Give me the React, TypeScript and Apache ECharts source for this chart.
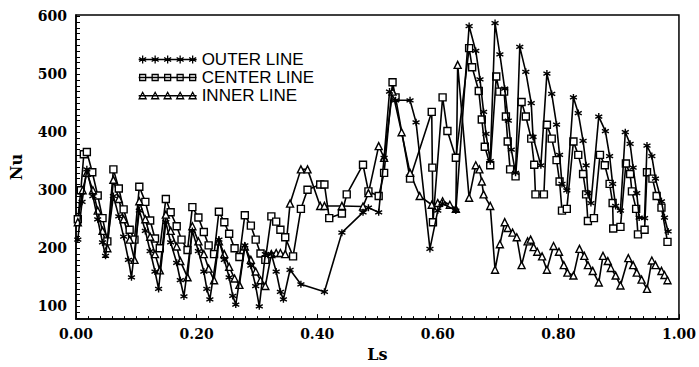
import React, { useEffect, useRef } from "react";
import * as echarts from "echarts";

const xTickLabels = ["0.00", "0.20", "0.40", "0.60", "0.80", "1.00"];
const yTickLabels = [100, 200, 300, 400, 500, 600];
const seriesNames = ["OUTER LINE", "CENTER LINE", "INNER LINE"];

const outerLine: number[][] = [
  [0.003,215],[0.010,280],[0.018,336],[0.028,290],[0.036,250],[0.044,210],[0.049,187],[0.062,290],[0.071,255],[0.079,220],[0.087,180],[0.092,150],[0.105,265],[0.115,230],[0.123,195],[0.131,160],[0.137,130],[0.149,245],[0.157,210],[0.167,175],[0.173,145],[0.179,117],[0.193,230],[0.203,195],[0.212,160],[0.217,130],[0.222,112],[0.237,215],[0.246,180],[0.254,150],[0.260,118],[0.265,103],[0.280,205],[0.290,170],[0.298,135],[0.304,100],[0.314,190],[0.324,190],[0.332,160],[0.339,125],[0.344,112],[0.355,163],[0.373,138],[0.412,125],[0.441,227],[0.476,262],[0.485,270],[0.502,262],[0.511,356],[0.520,470],[0.530,455],[0.554,455],[0.564,417],[0.587,199],[0.600,265],[0.608,277],[0.630,265],[0.652,583],[0.663,540],[0.670,491],[0.676,435],[0.680,397],[0.687,350],[0.695,588],[0.703,534],[0.711,475],[0.717,420],[0.722,370],[0.729,330],[0.736,547],[0.746,504],[0.755,450],[0.758,392],[0.771,343],[0.781,501],[0.789,466],[0.797,413],[0.802,361],[0.806,311],[0.814,300],[0.825,460],[0.833,433],[0.841,385],[0.846,343],[0.849,295],[0.854,278],[0.867,427],[0.878,402],[0.885,359],[0.890,311],[0.895,273],[0.903,265],[0.911,400],[0.919,380],[0.924,339],[0.930,295],[0.934,253],[0.943,252],[0.947,377],[0.955,359],[0.961,320],[0.971,281],[0.976,253],[0.982,229]
];

const centerLine: number[][] = [
  [0.003,250],[0.008,300],[0.013,362],[0.018,366],[0.027,331],[0.036,291],[0.044,252],[0.052,212],[0.062,336],[0.071,303],[0.079,267],[0.089,232],[0.097,215],[0.105,306],[0.115,280],[0.123,248],[0.131,217],[0.139,200],[0.149,285],[0.157,262],[0.167,238],[0.175,215],[0.185,197],[0.193,271],[0.203,253],[0.212,228],[0.220,205],[0.229,190],[0.237,263],[0.246,245],[0.254,225],[0.263,200],[0.271,185],[0.280,257],[0.290,239],[0.298,215],[0.306,191],[0.314,180],[0.324,255],[0.332,246],[0.339,232],[0.347,219],[0.360,186],[0.373,268],[0.384,301],[0.405,310],[0.412,310],[0.420,252],[0.441,260],[0.449,293],[0.476,344],[0.485,298],[0.502,290],[0.511,330],[0.525,486],[0.530,460],[0.554,320],[0.590,435],[0.591,339],[0.592,245],[0.608,460],[0.616,402],[0.630,356],[0.652,545],[0.657,512],[0.668,471],[0.673,422],[0.678,375],[0.687,343],[0.697,496],[0.702,470],[0.710,470],[0.713,427],[0.716,384],[0.720,336],[0.729,324],[0.739,452],[0.746,427],[0.755,389],[0.760,344],[0.762,293],[0.776,293],[0.781,413],[0.789,389],[0.797,352],[0.802,315],[0.806,265],[0.814,268],[0.825,384],[0.833,361],[0.841,328],[0.846,293],[0.849,247],[0.859,252],[0.869,361],[0.877,343],[0.885,311],[0.890,278],[0.891,234],[0.903,237],[0.912,346],[0.919,328],[0.922,298],[0.929,268],[0.932,224],[0.943,232],[0.947,331],[0.956,320],[0.963,290],[0.971,270],[0.981,211]
];

const innerLine: number[][] = [
  [0.003,245],[0.011,300],[0.018,330],[0.028,300],[0.036,265],[0.044,230],[0.052,200],[0.062,318],[0.071,285],[0.079,250],[0.089,215],[0.097,180],[0.105,281],[0.115,250],[0.123,220],[0.131,190],[0.139,162],[0.149,258],[0.157,230],[0.167,203],[0.173,178],[0.185,150],[0.193,238],[0.203,212],[0.212,190],[0.220,165],[0.229,145],[0.237,212],[0.246,190],[0.254,168],[0.263,148],[0.271,137],[0.280,203],[0.290,180],[0.298,160],[0.306,145],[0.314,135],[0.324,190],[0.332,192],[0.339,192],[0.347,190],[0.355,277],[0.373,336],[0.384,336],[0.405,273],[0.412,273],[0.441,273],[0.476,272],[0.485,295],[0.502,376],[0.511,356],[0.525,470],[0.540,400],[0.554,330],[0.570,290],[0.590,275],[0.600,278],[0.608,281],[0.620,275],[0.630,268],[0.633,516],[0.652,287],[0.663,343],[0.669,336],[0.673,315],[0.676,293],[0.687,273],[0.695,163],[0.703,207],[0.711,245],[0.716,235],[0.724,227],[0.731,219],[0.739,171],[0.749,212],[0.754,215],[0.759,202],[0.765,194],[0.773,186],[0.781,163],[0.792,204],[0.801,194],[0.809,171],[0.815,158],[0.825,153],[0.835,199],[0.843,187],[0.849,171],[0.857,161],[0.867,141],[0.874,187],[0.882,178],[0.887,166],[0.895,153],[0.903,136],[0.916,183],[0.924,171],[0.930,158],[0.938,146],[0.947,130],[0.955,179],[0.961,171],[0.971,161],[0.976,154],[0.981,145]
];

const STAR = "path://M5,0L5,10M0.7,2.5L9.3,7.5M0.7,7.5L9.3,2.5";

function legendIcon(kind: string): string {
  const centers = [4, 16.5, 29, 41.5, 54];
  let d = "M0,4L58,4";
  centers.forEach((c) => {
    if (kind === "star") {
      d += `M${c},0L${c},8M${c - 3.5},2L${c + 3.5},6M${c - 3.5},6L${c + 3.5},2`;
    } else if (kind === "rect") {
      d += `M${c - 3},1L${c + 3},1L${c + 3},7L${c - 3},7Z`;
    } else {
      d += `M${c - 3.5},7L${c},0.5L${c + 3.5},7Z`;
    }
  });
  return "path://" + d;
}

export default function App() {
  const ref = useRef<HTMLDivElement>(null);
  useEffect(() => {
    if (!ref.current) return;
    const chart = echarts.init(ref.current, null, { renderer: "svg" });
    const serif = "DejaVu Serif";
    const lineStyle = { color: "#000", width: 1.6 };
    const yTicks: number[] = [];
    for (let v = 80; v <= 600; v += 10) yTicks.push(v);
    chart.setOption({
      animation: false,
      backgroundColor: "#fff",
      grid: {
        left: 70, right: 14, top: 15, bottom: 33,
        show: true, borderColor: "#000", borderWidth: 1.5, backgroundColor: "transparent",
      },
      legend: {
        orient: "vertical",
        left: 133,
        top: 46,
        itemWidth: 58,
        itemHeight: 8,
        itemGap: 1,
        selectedMode: false,
        textStyle: { fontFamily: "Liberation Sans", fontSize: 17, color: "#000", lineHeight: 16.5 },
        itemStyle: { color: "#fff", borderColor: "#000", borderWidth: 1.3 },
        data: [
          { name: seriesNames[0], icon: legendIcon("star") },
          { name: seriesNames[1], icon: legendIcon("rect") },
          { name: seriesNames[2], icon: legendIcon("tri") },
        ],
      },
      xAxis: {
        type: "value",
        min: 0,
        max: 1,
        interval: 0.2,
        name: "Ls",
        nameLocation: "middle",
        nameGap: 15,
        nameTextStyle: { fontFamily: serif, fontWeight: "bold", fontSize: 16, color: "#000", verticalAlign: "top" },
        axisLine: { lineStyle: { color: "#000", width: 1.5 } },
        axisTick: { inside: true, length: 5, lineStyle: { color: "#000" } },
        minorTick: { show: true, splitNumber: 10, length: 3, lineStyle: { color: "#000" } },
        splitLine: { show: false },
        axisLabel: {
          color: "#000", fontFamily: serif, fontWeight: "bold", fontSize: 14, margin: 8,
          formatter: (v: number) => xTickLabels[Math.round(v / 0.2)] ?? "",
        },
      },
      yAxis: {
        type: "value",
        min: 78,
        max: 602,
        name: "Nu",
        nameLocation: "middle",
        nameGap: 52,
        nameTextStyle: { fontFamily: serif, fontWeight: "bold", fontSize: 16, color: "#000" },
        axisLine: { show: true, lineStyle: { color: "#000", width: 1.5 } },
        axisTick: { inside: true, length: 4, customValues: yTicks, lineStyle: { color: "#000" } },
        splitLine: { show: false },
        axisLabel: {
          color: "#000", fontFamily: serif, fontWeight: "bold", fontSize: 14, margin: 9,
          customValues: yTickLabels,
        },
      },
      series: [
        {
          name: seriesNames[0], type: "line", data: outerLine,
          symbol: STAR, symbolSize: 7, lineStyle,
          itemStyle: { color: "#000", borderColor: "#000", borderWidth: 1.4 },
          z: 3,
        },
        {
          name: seriesNames[1], type: "line", data: centerLine,
          symbol: "rect", symbolSize: 7, lineStyle,
          itemStyle: { color: "#fff", borderColor: "#000", borderWidth: 1.4 },
          z: 2,
        },
        {
          name: seriesNames[2], type: "line", data: innerLine,
          symbol: "triangle", symbolSize: 7, lineStyle,
          itemStyle: { color: "#fff", borderColor: "#000", borderWidth: 1.4 },
          z: 2,
        },
      ],
    });
    return () => chart.dispose();
  }, []);
  return <div ref={ref} style={{ position: "absolute", left: 0, top: 0, width: 699, height: 367 }} />;
}
